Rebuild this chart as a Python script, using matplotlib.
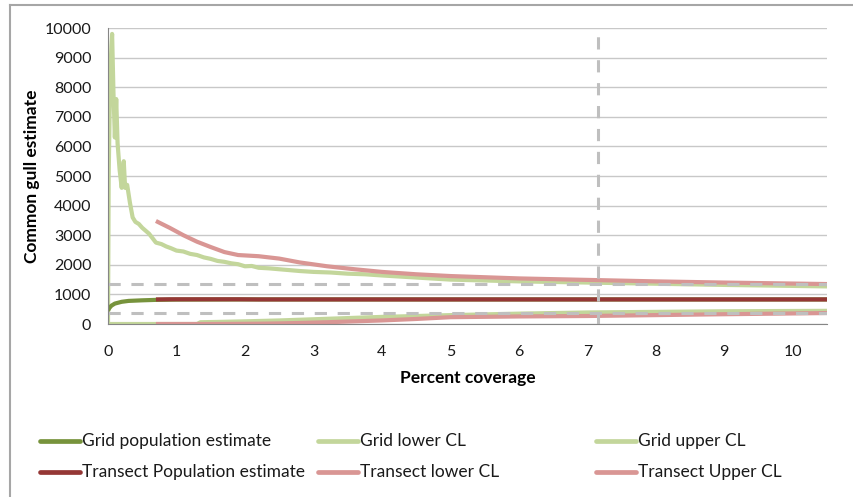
import matplotlib
matplotlib.use("Agg")
import matplotlib.pyplot as plt
from matplotlib.lines import Line2D

plt.rcParams['font.family'] = ['Lato', 'DejaVu Sans']

# ---- data ----
grid_upper_x = [0, 0.01, 0.03, 0.05, 0.06, 0.08, 0.1, 0.12, 0.14, 0.17, 0.2, 0.23, 0.25,
                0.28, 0.32, 0.36, 0.4, 0.45, 0.5, 0.55, 0.6, 0.65, 0.7, 0.78, 0.85, 0.92,
                1.0, 1.1, 1.2, 1.3, 1.4, 1.5, 1.6, 1.7, 1.8, 1.9, 2.0, 2.1, 2.2, 2.35,
                2.5, 2.65, 2.8, 3.0, 3.25, 3.5, 3.75, 4.0, 4.5, 5.0, 5.5, 6.0, 7.0, 8.0,
                9.0, 10.5]
grid_upper = [0, 5000, 8200, 9400, 9800, 7800, 6300, 7600, 6100, 5200, 4600, 5500, 4600,
              4700, 4100, 3600, 3450, 3380, 3250, 3150, 3050, 2900, 2750, 2700, 2620, 2560,
              2480, 2450, 2370, 2330, 2250, 2200, 2130, 2100, 2050, 2020, 1950, 1960, 1900, 1880,
              1850, 1820, 1790, 1760, 1740, 1700, 1680, 1640, 1570, 1500, 1470, 1440, 1400, 1360,
              1320, 1270]

grid_lower_x = [0, 1.3, 1.35, 1.6, 2.0, 2.5, 3.0, 3.5, 4.0, 5.0, 6.0, 7.0, 8.0, 9.0, 10.5]
grid_lower = [0, 0, 60, 70, 90, 120, 160, 200, 240, 300, 350, 390, 410, 430, 445]

grid_est_x = [0, 0.02, 0.05, 0.1, 0.2, 0.3, 0.5, 0.7, 1.0, 2.0, 5.0, 10.5]
grid_est = [450, 540, 620, 690, 750, 780, 800, 815, 825, 830, 830, 830]

tr_x = [0.7, 0.9, 1.1, 1.3, 1.5, 1.7, 1.9, 2.2, 2.5, 2.8, 3.2, 3.6, 4.0, 4.5, 5.0,
        6.0, 7.0, 8.0, 9.0, 10.5]
tr_est = [830, 835, 835, 835, 835, 835, 835, 830, 830, 830, 830, 830, 830, 830, 830,
          830, 830, 830, 830, 830]
tr_upper = [3480, 3250, 3000, 2780, 2600, 2430, 2330, 2290, 2210, 2080, 1950, 1850, 1760,
            1680, 1620, 1540, 1490, 1440, 1400, 1350]
tr_lower = [0, 0, 0, 0, 0, 2, 5, 10, 20, 35, 60, 90, 120, 170, 230, 255, 270, 300, 330, 370]

hlines = [1350, 370]
vline_x = 7.15

legend_labels = ["Grid population estimate", "Grid lower CL", "Grid upper CL",
                 "Transect Population estimate", "Transect lower CL", "Transect Upper CL"]

# ---- style ----
c_gest = '#77933C'
c_gcl = '#C3D69B'
c_test = '#953735'
c_tcl = '#D99694'
c_dash = '#BFBFBF'
lw = 3.0

W, H = 854, 497
fig = plt.figure(figsize=(W / 100, H / 100), dpi=100)
ax = fig.add_axes([108 / W, 1 - 324 / H, (827 - 108) / W, (324 - 28) / H])

ax.plot(grid_lower_x, grid_lower, color=c_gcl, lw=lw, solid_capstyle='butt')
ax.plot(grid_upper_x, grid_upper, color=c_gcl, lw=lw, solid_capstyle='butt')
ax.plot(grid_est_x, grid_est, color=c_gest, lw=lw, solid_capstyle='butt')
ax.plot(tr_x, tr_est, color=c_test, lw=lw, solid_capstyle='butt')
ax.plot(tr_x, tr_lower, color=c_tcl, lw=lw, solid_capstyle='butt')
ax.plot(tr_x, tr_upper, color=c_tcl, lw=lw, solid_capstyle='butt')

for h in hlines:
    ax.axhline(h, color=c_dash, lw=2.2, dashes=(4, 3.5))
ax.axvline(vline_x, color=c_dash, lw=2.2, dashes=(4, 3.5))

ax.set_xlim(0, 10.5)
ax.set_ylim(0, 10000)
ax.set_xticks(range(0, 11))
ax.set_yticks(range(0, 10001, 1000))
ax.yaxis.grid(True, color='#C8C8C8', lw=1)
ax.set_axisbelow(True)
for s in ['top', 'right']:
    ax.spines[s].set_visible(False)
for s in ['left', 'bottom']:
    ax.spines[s].set_color('#868686')
ax.tick_params(axis='both', length=0, labelsize=11.5, colors='#1a1a1a')
ax.tick_params(axis='x', pad=15)
ax.tick_params(axis='y', pad=12)

ax.set_xlabel("Percent coverage", fontsize=12.5, fontweight='bold', labelpad=8)
ax.set_ylabel("Common gull estimate", fontsize=12.5, fontweight='bold', labelpad=3)

# outer frame
fig.add_artist(Line2D([10 / W, 10 / W], [0, 1 - 5 / H], color='#A6A6A6', lw=1.5,
                      transform=fig.transFigure))
fig.add_artist(Line2D([10 / W, 1], [1 - 5 / H, 1 - 5 / H], color='#A6A6A6', lw=1.5,
                      transform=fig.transFigure))

# legend (manual)
leg_colors = [c_gest, c_gcl, c_gcl, c_test, c_tcl, c_tcl]
col_x = [40, 318, 596]
row_y = [441, 472]
for i, (lab, col) in enumerate(zip(legend_labels, leg_colors)):
    r, c = divmod(i, 3)
    x0 = col_x[c]
    y = 1 - row_y[r] / H
    fig.add_artist(Line2D([x0 / W, (x0 + 40) / W], [y, y], color=col, lw=3.4,
                          solid_capstyle='round', transform=fig.transFigure))
    fig.text((x0 + 42) / W, y, lab, fontsize=12.5, va='center', ha='left', color='#1a1a1a')

fig.savefig("out.png", dpi=100, facecolor='white')
